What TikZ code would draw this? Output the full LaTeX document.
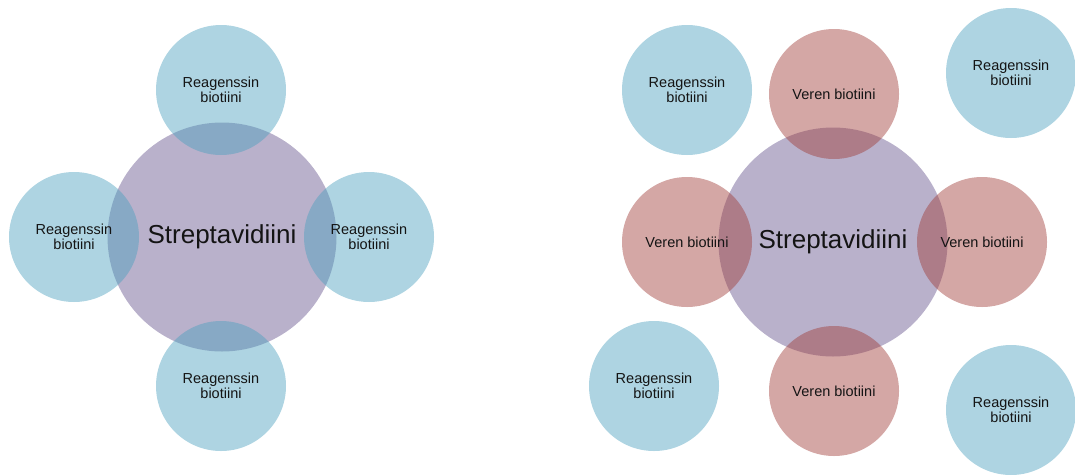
\documentclass[tikz,border=0pt]{standalone}
\usepackage{fontspec}
\setmainfont{Liberation Sans}
\usepackage{tikz}
\usetikzlibrary{positioning}
\usepackage{xcolor}
\definecolor{strepcol}{RGB}{100,82,140}
\definecolor{reagcol}{RGB}{75,160,190}
\definecolor{verencol}{RGB}{160,60,56}
\definecolor{labelcol}{RGB}{20,20,20}

\begin{document}
\begin{tikzpicture}[x=1pt, y=-1pt,
    strepbox/.style={circle, fill=strepcol, fill opacity=0.45, text opacity=1, text=labelcol, inner sep=0pt, minimum size=229pt, font=\fontsize{26}{30}\selectfont},
    reagbox/.style={circle, fill=reagcol, fill opacity=0.45, text opacity=1, text=labelcol, inner sep=0pt, minimum size=130pt, align=center, font=\fontsize{14.5}{15.5}\selectfont},
    verenbox/.style={circle, fill=verencol, fill opacity=0.45, text opacity=1, text=labelcol, inner sep=0pt, minimum size=130pt, align=center, font=\fontsize{14.5}{15.5}\selectfont}
  ]
    \useasboundingbox (0,0) rectangle (1075,474);

    % vasen: streptavidiini ja reagenssin biotiini
    \node[strepbox] (strepL) at (222,237) {Streptavidiini};
    \node[reagbox] (reagLtop) at (221,90) {Reagenssin\\biotiini};
    \node[reagbox] (reagLleft) at (74,237) {Reagenssin\\biotiini};
    \node[reagbox] (reagLright) at (369,237) {Reagenssin\\biotiini};
    \node[reagbox] (reagLbottom) at (221,386) {Reagenssin\\biotiini};

    % oikea: veren biotiini sitoutunut
    \node[strepbox] (strepR) at (833,242) {Streptavidiini};
    \node[verenbox] (verenTop) at (834,94) {Veren biotiini};
    \node[verenbox] (verenLeft) at (687,242) {Veren biotiini};
    \node[verenbox] (verenRight) at (982,242) {Veren biotiini};
    \node[verenbox] (verenBottom) at (834,391) {Veren biotiini};

    \node[reagbox] (reagRtl) at (687,90) {Reagenssin\\biotiini};
    \node[reagbox] (reagRtr) at (1011,73) {Reagenssin\\biotiini};
    \node[reagbox] (reagRbl) at (654,386) {Reagenssin\\biotiini};
    \node[reagbox] (reagRbr) at (1011,410) {Reagenssin\\biotiini};
  \end{tikzpicture}
\end{document}
